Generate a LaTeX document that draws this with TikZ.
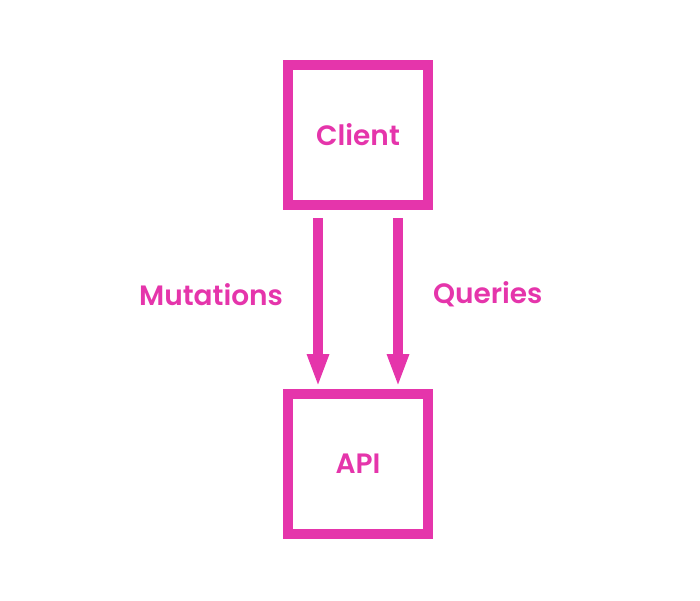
\documentclass[tikz,border=0pt]{standalone}
\usepackage{fontspec}
\setmainfont{Poppins}[BoldFont={Poppins SemiBold}]
\usetikzlibrary{arrows.meta, positioning}
\definecolor{gqlpink}{HTML}{E535AB}
\tikzset{
box/.style={draw=gqlpink, line width=10pt, minimum size=140pt, text=gqlpink, font=\fontsize{28}{32}\selectfont\bfseries}, % the two squares
flow/.style={draw=gqlpink, line width=10pt, -{Triangle[width=20pt, length=33pt]}}, % thick arrows
flowlabel/.style={text=gqlpink, inner sep=0pt, font=\fontsize{28}{32}\selectfont\bfseries},
}

\begin{document}
\begin{tikzpicture}[x=1pt, y=-1pt]
    \useasboundingbox (0,0) rectangle (700,600);
    \node[box] (client) at (358,135) {Client};
    \node[box] (api) at (358,464) {API};

    \draw[flow] ([xshift=-40pt, yshift=-8pt]client.south) -- ([xshift=-40pt, yshift=2pt]api.north)
      node[flowlabel, midway, left=30pt, yshift=8pt] (mutations) {Mutations};
    \draw[flow] ([xshift=40pt, yshift=-8pt]client.south) -- ([xshift=40pt, yshift=2pt]api.north)
      node[flowlabel, midway, right=30pt, yshift=8pt] (queries) {Queries};
\end{tikzpicture}
\end{document}
